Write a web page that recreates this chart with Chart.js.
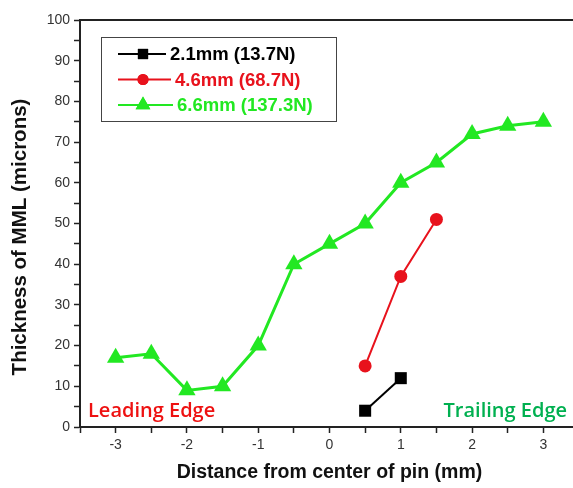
<!DOCTYPE html>
<html>
<head>
<meta charset="utf-8">
<script src="https://cdn.jsdelivr.net/npm/chart.js@4.4.0/dist/chart.umd.min.js"></script>
<style>
  html,body{margin:0;padding:0;background:#fff;overflow:hidden}
  canvas{display:block}
</style>
</head>
<body>
<canvas id="c" width="589" height="488"></canvas>
<script>
// MML thickness vs distance from pin centre, three plunge depths
const seriesNames = ['2.1mm (13.7N)', '4.6mm (68.7N)', '6.6mm (137.3N)']
const xBlack = [0.5, 1]
const yBlack = [4, 12]
const xRed = [0.5, 1, 1.5]
const yRed = [15, 37, 51]
const xGreen = [-3, -2.5, -2, -1.5, -1, -0.5, 0, 0.5, 1, 1.5, 2, 2.5, 3]
const yGreen = [17, 18, 9, 10, 20, 40, 45, 50, 60, 65, 72, 74, 75]
const xTickLabels = [-3, -2, -1, 0, 1, 2, 3]
const yTickLabels = [0, 10, 20, 30, 40, 50, 60, 70, 80, 90, 100]
const edgeLabels = ['Leading Edge', 'Trailing Edge']
const yTitle = 'Thickness of MML (microns)'

const BLACK = '#000000', RED = '#e8121c', GREEN = '#22e822'
const ARIAL = '"Liberation Sans", Arial, sans-serif'

function pts(xs, ys){ return xs.map((x,i)=>({x, y: ys[i]})) }

// legend box + edge labels + top frame line + y title
const extras = {
  id: 'extras',
  afterDraw(chart){
    const ctx = chart.ctx, a = chart.chartArea
    ctx.save()
    // top frame
    ctx.strokeStyle = '#222'; ctx.lineWidth = 2
    ctx.beginPath(); ctx.moveTo(a.left, a.top); ctx.lineTo(a.right, a.top); ctx.stroke()

    // y title (sits a bit below the plot centre in the original)
    ctx.save()
    ctx.translate(20, 237); ctx.rotate(-Math.PI / 2)
    ctx.font = 'bold 20.5px ' + ARIAL
    ctx.fillStyle = '#111'; ctx.textAlign = 'center'; ctx.textBaseline = 'middle'
    ctx.fillText(yTitle, 0, 0)
    ctx.restore()

    // legend
    const bx = a.left + 21, by = a.top + 17, bw = 235, bh = 84
    ctx.lineWidth = 1; ctx.strokeStyle = '#444'
    ctx.strokeRect(bx + .5, by + .5, bw, bh)
    ctx.font = 'bold 18.5px ' + ARIAL
    ctx.textBaseline = 'middle'
    const textShift = [0, 5, 7]
    chart.data.datasets.forEach((ds, i)=>{
      const ly = by + 17 + i * 25.5
      ctx.strokeStyle = ds.borderColor; ctx.lineWidth = 2
      ctx.beginPath(); ctx.moveTo(bx + 17, ly); ctx.lineTo(bx + 65 + textShift[i], ly); ctx.stroke()
      ctx.fillStyle = ds.borderColor
      Chart.helpers.drawPoint(ctx, {pointStyle: ds.pointStyle, radius: ds.pointRadius * 0.85, borderWidth: 0}, bx + 42, ly)
      ctx.fill()
      ctx.fillText(ds.label, bx + 69 + textShift[i], ly + 1)
    })

    // edge labels
    ctx.font = '600 20px "Open Sans", sans-serif'
    ctx.textBaseline = 'alphabetic'
    ctx.fillStyle = '#ee1111'; ctx.textAlign = 'left'
    ctx.fillText(edgeLabels[0], a.left + 8, a.bottom - 10)
    ctx.fillStyle = '#00b050'; ctx.textAlign = 'right'
    ctx.fillText(edgeLabels[1], a.left + 487, a.bottom - 10)
    ctx.restore()
  }
}

const mk = (label, data, color, style, r, bw) => ({
  label, data, borderColor: color, backgroundColor: color,
  pointStyle: style, pointRadius: r, pointHoverRadius: r,
  pointBorderWidth: 0, borderWidth: bw, tension: 0, showLine: true
})

new Chart(document.getElementById('c'), {
  type: 'scatter',
  data: {
    datasets: [
      mk(seriesNames[0], pts(xBlack, yBlack), BLACK, 'rect', 8.5, 2),
      mk(seriesNames[1], pts(xRed, yRed), RED, 'circle', 6.5, 2),
      mk(seriesNames[2], pts(xGreen, yGreen), GREEN, 'triangle', 10, 3)
    ]
  },
  options: {
    responsive: false, animation: false,
    layout: {padding: {top: 20, right: 4, left: 0, bottom: 0}},
    plugins: {legend: {display: false}, tooltip: {enabled: false}},
    scales: {
      x: {
        type: 'linear', min: -3.5, max: 3.5,
        afterFit(s){ s.height = 61 },
        border: {display: true, color: '#222', width: 2},
        grid: {drawOnChartArea: false, drawTicks: true, tickLength: 6, color: '#222', tickWidth: 1.5},
        ticks: {
          stepSize: 0.5, autoSkip: false, maxRotation: 0, padding: 4, color: '#333',
          font: {family: ARIAL, size: 14},
          callback: v => xTickLabels.includes(v) ? String(v) : ''
        },
        title: {display: true, text: 'Distance from center of pin (mm)', color: '#111',
          font: {family: ARIAL, size: 19.5, weight: 'bold'}, padding: {top: 13}}
      },
      y: {
        min: 0, max: 100,
        afterFit(s){ s.width = 80 },
        border: {display: true, color: '#222', width: 2},
        grid: {drawOnChartArea: false, drawTicks: true, tickLength: 6, color: '#222', tickWidth: 1.5},
        ticks: {
          stepSize: 5, autoSkip: false, padding: 4, color: '#333',
          font: {family: ARIAL, size: 14},
          callback: v => yTickLabels.includes(v) ? String(v) : ''
        },
        title: {display: false}
      }
    }
  },
  plugins: [extras]
})
</script>
</body>
</html>
